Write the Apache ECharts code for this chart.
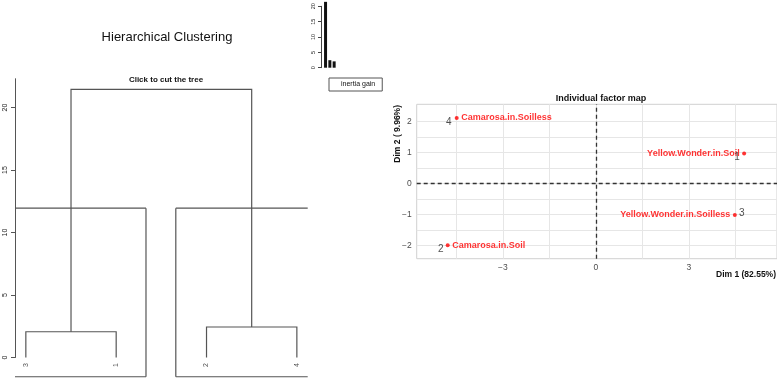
<!DOCTYPE html>
<html>
<head>
<meta charset="utf-8">
<script src="https://cdn.jsdelivr.net/npm/echarts@6/dist/echarts.min.js"></script>
<style>
  html, body { margin: 0; padding: 0; background: #fff; }
  #chart { width: 777px; height: 379px; }
</style>
</head>
<body>
<div id="chart"></div>
<script>
// dendrogram (leaves in plotting order)
const leafLabels = ['3', '1', '2', '4'];
const leafPositions = [1, 2, 3, 4];
const pairHeights = [2.06, 2.44];   // {3,1} and {2,4}
const rootHeight = 21.45;
const cutHeight = 11.95;
const treeTicks = [0, 5, 10, 15, 20];

// inertia gain barplot
const gainNames = ['1', '2', '3'];
const gainValues = [21.45, 2.44, 2.06];

// individual factor map
const individuals = ['Yellow.Wonder.in.Soil', 'Camarosa.in.Soil', 'Yellow.Wonder.in.Soilless', 'Camarosa.in.Soilless'];
const individualIds = ['1', '2', '3', '4'];
const dim1 = [4.78, -4.78, 4.48, -4.49];
const dim2 = [0.96, -2.0, -1.02, 2.11];
const dim1Ticks = [-3, 0, 3];
const dim1Grid = [-4.5, -3, -1.5, 0, 1.5, 3, 4.5];
const dim2Ticks = [-2, -1, 0, 1, 2];
const dim2Grid = [-2, -1.5, -1, -0.5, 0, 0.5, 1, 1.5, 2];

const FONT = 'Liberation Sans, Arial, Helvetica, sans-serif';
const TREE_X = [0.88, 4.12];
const TREE_Y = [-1.6, 22.3];
const BOX_BOTTOM = -1.54;
const treeColor = '#555';

const clampX = v => Math.min(TREE_X[1], Math.max(TREE_X[0], v));

// tree branches
const branches = [];
const mids = [];
for (let k = 0; k < 2; k++) {
  const a = leafPositions[2 * k], b = leafPositions[2 * k + 1], h = pairHeights[k];
  branches.push({ coords: [[a, 0], [a, h], [b, h], [b, 0]] });
  mids.push((a + b) / 2);
}
branches.push({ coords: [[mids[0], pairHeights[0]], [mids[0], rootHeight], [mids[1], rootHeight], [mids[1], pairHeights[1]]] });

// rect.hclust style boxes around the two clusters, clipped to plot area
const boxes = [];
for (let k = 0; k < 2; k++) {
  const x0 = leafPositions[2 * k] - 0.34, x1 = leafPositions[2 * k + 1] + 0.33;
  const l = clampX(x0), r = clampX(x1);
  boxes.push({ coords: [[l, cutHeight], [r, cutHeight]] });
  if (x0 >= TREE_X[0]) boxes.push({ coords: [[x0, cutHeight], [x0, BOX_BOTTOM]] });
  if (x1 <= TREE_X[1]) boxes.push({ coords: [[x1, cutHeight], [x1, BOX_BOTTOM]] });
  boxes.push({ coords: [[l, BOX_BOTTOM], [r, BOX_BOTTOM]] });
}

const numOffsets = [[-7, 4], [-7, 4], [7, -2], [-8, 4]];
const labelSides = ['left', 'right', 'left', 'right'];
const minus = v => String(v).replace('-', '\u2212');

const chart = echarts.init(document.getElementById('chart'));
chart.setOption({
  animation: false,
  textStyle: { fontFamily: FONT },
  title: [
    { text: 'Hierarchical Clustering', left: 162, top: 26, textAlign: 'center',
      textStyle: { fontSize: 13, fontWeight: 'normal', color: '#111', fontFamily: FONT } },
    { text: 'Click to cut the tree', left: 161, top: 71, textAlign: 'center',
      textStyle: { fontSize: 8, fontWeight: 'bold', color: '#111', fontFamily: FONT } },
    { text: 'Individual factor map', left: 596, top: 89, textAlign: 'center',
      textStyle: { fontSize: 9, fontWeight: 'bold', color: '#111', fontFamily: FONT } }
  ],
  legend: {
    data: [{ name: 'inertia gain', icon: 'none' }],
    left: 329, top: 78, itemWidth: 0, itemHeight: 0,
    padding: [3, 7, 3, 7],
    borderColor: '#555', borderWidth: 1,
    selectedMode: false,
    textStyle: { fontSize: 7, color: '#111', fontFamily: FONT }
  },
  grid: [
    { left: 15, top: 78.75, width: 292.7, height: 278.75 },
    { left: 15, top: 78.75, width: 292.7, height: 298.75 },
    { left: 323.4, top: 6.3, width: 12.9, height: 61.4 },
    { left: 416.7, top: 104.3, width: 361.3, height: 154.4, show: true,
      borderColor: '#d0d0d0', borderWidth: 1, backgroundColor: '#fff' }
  ],
  xAxis: [
    { gridIndex: 0, type: 'value', min: TREE_X[0], max: TREE_X[1], show: false },
    { gridIndex: 1, type: 'value', min: TREE_X[0], max: TREE_X[1], show: false },
    { gridIndex: 2, type: 'category', data: gainNames, show: false,
      boundaryGap: true },
    { gridIndex: 3, type: 'value', min: -5.78, max: 5.84,
      axisLine: { show: false },
      axisTick: { show: false, customValues: dim1Grid },
      splitLine: { show: true, lineStyle: { color: '#e6e6e6', width: 1 } },
      axisLabel: { customValues: dim1Ticks, fontSize: 8.5, color: '#4d4d4d', margin: 4,
        formatter: minus } }
  ],
  yAxis: [
    { gridIndex: 0, type: 'value', min: 0, max: TREE_Y[1],
      axisLine: { show: true, lineStyle: { color: '#555', width: 1 } },
      axisTick: { show: true, length: 4, customValues: treeTicks, lineStyle: { color: '#555' } },
      axisLabel: { customValues: treeTicks, rotate: 90, fontSize: 7, color: '#222', margin: 6 },
      splitLine: { show: false } },
    { gridIndex: 1, type: 'value', min: TREE_Y[0], max: TREE_Y[1], show: false },
    { gridIndex: 2, type: 'value', min: 0, max: 20, interval: 5, offset: 2.4,
      axisLine: { show: true, lineStyle: { color: '#444', width: 1 } },
      axisTick: { show: true, length: 3, lineStyle: { color: '#444' } },
      axisLabel: { rotate: 90, fontSize: 5.5, color: '#222', margin: 5 },
      splitLine: { show: false } },
    { gridIndex: 3, type: 'value', min: -2.43, max: 2.55,
      axisLine: { show: false },
      axisTick: { show: false, customValues: dim2Grid },
      splitLine: { show: true, lineStyle: { color: '#e6e6e6', width: 1 } },
      axisLabel: { customValues: dim2Ticks, fontSize: 8.5, color: '#4d4d4d', margin: 5,
        formatter: minus } }
  ],
  series: [
    {
      type: 'lines', coordinateSystem: 'cartesian2d', polyline: true,
      xAxisIndex: 1, yAxisIndex: 1, silent: true,
      lineStyle: { color: treeColor, width: 1.2, opacity: 1 },
      data: branches.concat(boxes)
    },
    {
      type: 'scatter', xAxisIndex: 1, yAxisIndex: 1, symbolSize: 0, silent: true,
      data: leafPositions.map((p, i) => ({ value: [p, 0], name: leafLabels[i] })),
      label: { show: true, position: 'bottom', distance: 5.5, rotate: 90,
        align: 'right', verticalAlign: 'middle', formatter: '{b}', fontSize: 7, color: '#222' }
    },
    {
      name: 'inertia gain', type: 'bar', xAxisIndex: 2, yAxisIndex: 2,
      data: gainValues, barWidth: 3, clip: false, silent: true,
      itemStyle: { color: '#111' }
    },
    {
      type: 'scatter', xAxisIndex: 3, yAxisIndex: 3, symbolSize: 4, silent: true,
      itemStyle: { color: '#ff0000' },
      data: individuals.map((n, i) => ({
        name: n, value: [dim1[i], dim2[i]],
        label: { position: labelSides[i] }
      })),
      label: { show: true, formatter: '{b}', distance: 2.5, fontSize: 9,
        fontWeight: 'bold', color: '#ff0000' },
      markLine: {
        silent: true, symbol: 'none', animation: false,
        label: { show: false },
        lineStyle: { color: '#333', type: [4, 3], width: 1.3 },
        data: [{ xAxis: 0 }, { yAxis: 0 }]
      }
    },
    {
      type: 'scatter', xAxisIndex: 3, yAxisIndex: 3, symbolSize: 0, silent: true,
      data: individualIds.map((id, i) => ({
        name: id, value: [dim1[i], dim2[i]],
        label: { offset: numOffsets[i] }
      })),
      label: { show: true, position: 'inside', formatter: '{b}', fontSize: 10, color: '#222' }
    }
  ],
  graphic: [
    { type: 'text', x: 776, y: 275,
      style: { text: 'Dim 1 (82.55%)', align: 'right', verticalAlign: 'middle',
        font: 'bold 8.5px ' + FONT, fill: '#111' } },
    { type: 'text', x: 398, y: 105, rotation: Math.PI / 2,
      style: { text: 'Dim 2 ( 9.96%)', align: 'right', verticalAlign: 'middle',
        font: 'bold 8.5px ' + FONT, fill: '#111' } }
  ]
});
window.addEventListener('resize', () => chart.resize());
</script>
</body>
</html>
